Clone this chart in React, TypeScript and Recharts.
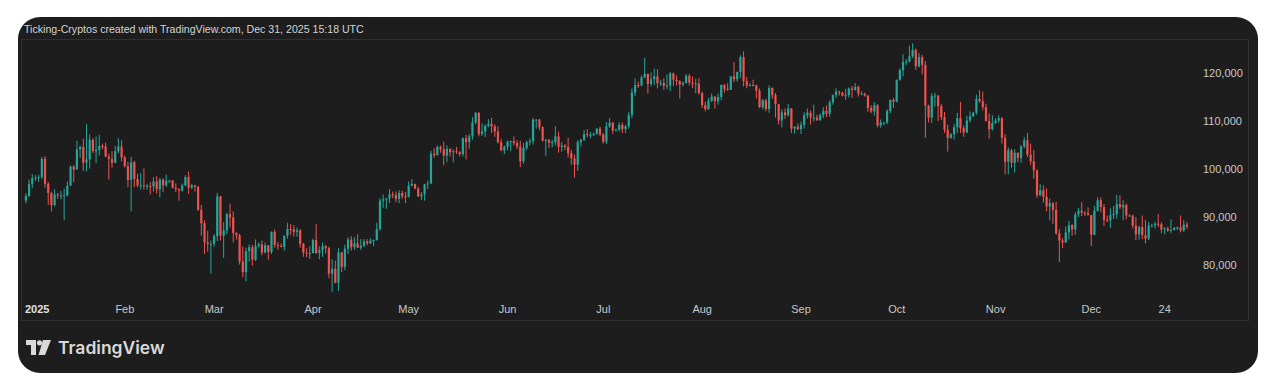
import React from 'react';
import { ComposedChart, Bar, XAxis, YAxis } from 'recharts';

// BTC/USD daily candles for 2025, [open, high, low, close] in thousands of USD
type Ohlc = [number, number, number, number];

const jan: Ohlc[] = [
  [93.4, 94.9, 92.8, 94.4], [94.4, 97.8, 94.2, 96.9], [96.9, 98.9, 96.0, 98.1], [98.1, 98.7, 97.5, 98.2],
  [98.2, 98.8, 97.3, 98.3], [98.3, 102.5, 97.9, 102.1], [102.1, 102.7, 96.1, 96.9], [96.9, 97.3, 92.5, 95.0],
  [95.0, 95.3, 91.2, 92.5], [92.5, 95.8, 92.2, 94.7], [94.7, 95.0, 93.8, 94.5], [94.5, 95.4, 93.7, 94.5],
  [94.5, 95.9, 89.3, 94.5], [94.5, 97.4, 94.3, 96.5], [96.5, 100.7, 96.5, 100.5], [100.5, 100.8, 97.3, 99.9],
  [99.9, 105.9, 99.9, 104.1], [104.1, 104.9, 102.3, 104.6], [104.6, 106.3, 99.6, 101.3], [101.3, 109.4, 99.5, 102.0],
  [102.0, 107.2, 100.1, 106.1], [106.1, 106.4, 103.3, 103.7], [103.7, 106.8, 101.2, 104.0], [104.0, 107.1, 102.8, 104.8],
  [104.8, 105.3, 104.1, 104.7], [104.7, 105.5, 102.5, 102.6], [102.6, 103.2, 97.8, 102.1], [102.1, 103.7, 100.3, 101.3],
  [101.3, 104.8, 101.3, 103.7], [103.7, 106.4, 103.3, 104.7], [104.7, 106.0, 101.6, 102.4],
];

const feb: Ohlc[] = [
  [102.4, 102.8, 100.3, 100.6], [100.6, 101.5, 96.2, 97.7], [97.7, 102.5, 91.2, 101.4], [101.4, 101.7, 96.2, 97.9],
  [97.9, 99.0, 96.2, 96.6], [96.6, 99.2, 95.7, 96.6], [96.6, 100.1, 95.7, 96.5], [96.5, 96.9, 95.7, 96.5],
  [96.5, 97.3, 94.7, 96.4], [96.4, 98.3, 95.3, 97.4], [97.4, 98.5, 94.9, 95.8], [95.8, 98.1, 94.1, 97.8],
  [97.8, 98.0, 95.2, 96.6], [96.6, 98.8, 96.3, 97.5], [97.5, 97.7, 97.1, 97.6], [97.6, 97.7, 96.0, 96.1],
  [96.1, 97.0, 95.2, 95.8], [95.8, 96.0, 93.4, 95.5], [95.5, 97.0, 95.3, 96.6], [96.6, 98.7, 96.4, 98.3],
  [98.3, 99.5, 94.8, 96.1], [96.1, 96.9, 95.8, 96.6], [96.6, 96.7, 95.3, 96.3], [96.3, 96.5, 91.3, 91.5],
  [91.5, 92.5, 86.1, 88.7], [88.7, 89.3, 82.3, 84.7], [84.7, 87.1, 82.8, 84.4], [84.4, 85.1, 78.2, 84.4],
];

const mar: Ohlc[] = [
  [84.4, 86.5, 83.8, 86.0], [86.0, 95.0, 85.0, 94.3], [94.3, 94.4, 85.1, 86.1], [86.1, 88.9, 81.5, 87.2],
  [87.2, 90.9, 86.4, 90.6], [90.6, 92.8, 87.8, 89.9], [89.9, 91.2, 84.7, 86.7], [86.7, 86.8, 85.3, 86.2],
  [86.2, 86.5, 80.1, 80.7], [80.7, 83.9, 77.5, 78.5], [78.5, 83.6, 76.6, 82.9], [82.9, 84.3, 80.7, 83.7],
  [83.7, 84.2, 79.9, 81.1], [81.1, 85.3, 80.8, 84.0], [84.0, 84.7, 83.6, 84.3], [84.3, 85.1, 82.0, 82.6],
  [82.6, 84.7, 82.4, 84.1], [84.1, 84.1, 81.1, 82.7], [82.7, 87.0, 82.3, 86.9], [86.9, 87.4, 83.6, 84.2],
  [84.2, 84.8, 83.2, 84.0], [84.0, 84.5, 83.7, 83.8], [83.8, 86.1, 83.0, 86.1], [86.1, 88.8, 85.5, 87.5],
  [87.5, 88.5, 86.3, 87.4], [87.4, 88.3, 85.9, 86.9], [86.9, 87.8, 85.9, 87.2], [87.2, 87.5, 83.6, 84.4],
  [84.4, 84.6, 81.7, 82.6], [82.6, 83.5, 81.6, 82.4], [82.4, 83.9, 81.3, 82.5],
];

const apr: Ohlc[] = [
  [82.5, 85.5, 82.4, 85.2], [85.2, 88.5, 82.3, 82.5], [82.5, 83.9, 81.2, 83.1], [83.1, 84.7, 81.7, 83.9],
  [83.9, 84.2, 82.4, 83.5], [83.5, 83.8, 77.2, 78.2], [78.2, 81.2, 74.4, 79.2], [79.2, 80.9, 76.2, 76.3],
  [76.3, 83.5, 74.6, 82.6], [82.6, 82.7, 78.5, 79.6], [79.6, 84.2, 78.9, 83.4], [83.4, 85.8, 82.3, 85.3],
  [85.3, 86.0, 83.0, 83.7], [83.7, 85.8, 83.1, 84.5], [84.5, 86.4, 83.6, 83.6], [83.6, 85.4, 83.1, 84.0],
  [84.0, 85.4, 83.7, 84.9], [84.9, 85.4, 84.1, 84.5], [84.5, 85.6, 84.4, 85.1], [85.1, 85.3, 83.9, 85.2],
  [85.2, 88.8, 85.1, 87.5], [87.5, 93.9, 87.1, 93.4], [93.4, 94.7, 91.9, 93.7], [93.7, 94.0, 91.7, 93.9],
  [93.9, 95.8, 92.9, 94.7], [94.7, 95.3, 93.9, 94.6], [94.6, 95.3, 93.1, 93.8], [93.8, 95.6, 92.9, 95.0],
  [95.0, 95.5, 93.8, 94.3], [94.3, 95.2, 92.9, 94.2],
];

const may: Ohlc[] = [
  [94.2, 97.4, 94.1, 96.5], [96.5, 97.9, 96.4, 96.9], [96.9, 96.9, 95.8, 95.9], [95.9, 96.3, 94.2, 94.3],
  [94.3, 95.2, 93.5, 94.7], [94.7, 96.9, 93.4, 96.8], [96.8, 97.6, 95.8, 97.0], [97.0, 103.8, 96.9, 103.2],
  [103.2, 104.3, 102.3, 102.9], [102.9, 104.9, 102.8, 104.6], [104.6, 104.9, 103.4, 104.1], [104.1, 105.7, 100.8, 102.8],
  [102.8, 104.9, 101.4, 104.2], [104.2, 104.3, 102.6, 103.5], [103.5, 104.1, 101.4, 103.7], [103.7, 104.6, 103.1, 103.5],
  [103.5, 103.7, 102.6, 103.1], [103.1, 106.6, 102.6, 106.4], [106.4, 107.1, 102.0, 105.6], [105.6, 107.3, 104.2, 106.8],
  [106.8, 110.8, 106.1, 109.7], [109.7, 111.9, 109.3, 111.7], [111.7, 111.8, 106.8, 107.3], [107.3, 109.5, 106.9, 107.8],
  [107.8, 109.3, 106.6, 109.0], [109.0, 110.4, 108.7, 109.4], [109.4, 110.7, 107.5, 108.9], [108.9, 109.3, 106.7, 107.8],
  [107.8, 108.9, 105.3, 105.6], [105.6, 106.3, 103.7, 103.9], [103.9, 104.9, 103.1, 104.6],
];

const jun: Ohlc[] = [
  [104.6, 105.9, 103.9, 105.7], [105.7, 105.9, 103.7, 105.8], [105.8, 106.8, 104.9, 105.4], [105.4, 106.0, 104.2, 104.7],
  [104.7, 105.9, 100.4, 101.6], [101.6, 105.4, 101.1, 104.4], [104.4, 105.9, 103.9, 105.6], [105.6, 106.4, 104.9, 105.8],
  [105.8, 110.6, 105.1, 110.3], [110.3, 110.4, 108.4, 110.3], [110.3, 110.4, 108.1, 108.7], [108.7, 108.9, 105.7, 105.9],
  [105.9, 106.2, 102.7, 106.1], [106.1, 106.2, 104.4, 105.5], [105.5, 106.1, 104.5, 105.6], [105.6, 108.9, 104.9, 106.8],
  [106.8, 107.8, 103.4, 104.6], [104.6, 105.6, 103.6, 104.9], [104.9, 105.2, 103.9, 104.6], [104.6, 106.5, 102.4, 103.3],
  [103.3, 104.0, 100.9, 102.2], [102.2, 103.0, 98.2, 100.9], [100.9, 106.0, 99.6, 105.6], [105.6, 106.3, 104.7, 106.1],
  [106.1, 108.1, 105.8, 107.3], [107.3, 108.3, 106.6, 107.1], [107.1, 107.7, 106.4, 107.1], [107.1, 107.6, 106.9, 107.3],
  [107.3, 108.5, 107.2, 108.4], [108.4, 108.8, 106.8, 107.2],
];

const jul: Ohlc[] = [
  [107.2, 107.5, 105.3, 105.7], [105.7, 109.8, 105.2, 108.9], [108.9, 110.6, 108.6, 109.6], [109.6, 109.8, 107.3, 108.0],
  [108.0, 108.4, 107.8, 108.2], [108.2, 109.7, 107.8, 109.2], [109.2, 109.7, 107.5, 108.3], [108.3, 109.2, 107.5, 108.9],
  [108.9, 111.9, 108.4, 111.3], [111.3, 116.8, 110.6, 115.9], [115.9, 118.9, 115.2, 117.5], [117.5, 118.2, 116.9, 117.4],
  [117.4, 119.5, 117.2, 119.1], [119.1, 123.2, 118.9, 119.8], [119.8, 119.9, 115.7, 117.7], [117.7, 120.1, 117.2, 118.7],
  [118.7, 120.9, 117.5, 119.3], [119.3, 120.8, 116.8, 117.9], [117.9, 118.6, 117.3, 117.9], [117.9, 118.9, 116.5, 117.3],
  [117.3, 119.7, 116.6, 117.4], [117.4, 120.2, 116.2, 119.9], [119.9, 120.1, 117.3, 118.6], [118.6, 119.5, 117.4, 118.3],
  [118.3, 118.5, 114.7, 117.6], [117.6, 118.3, 117.2, 117.9], [117.9, 119.8, 117.8, 119.4], [119.4, 119.8, 117.4, 118.0],
  [118.0, 119.3, 116.9, 117.8], [117.8, 118.8, 115.8, 117.8], [117.8, 118.9, 115.5, 115.8],
];

const aug: Ohlc[] = [
  [115.8, 116.1, 112.7, 113.3], [113.3, 114.0, 112.0, 112.5], [112.5, 114.8, 112.3, 114.2], [114.2, 115.7, 114.0, 115.1],
  [115.1, 115.1, 112.6, 114.1], [114.1, 115.7, 113.4, 115.0], [115.0, 117.6, 114.3, 117.5], [117.5, 117.7, 115.9, 116.7],
  [116.7, 117.9, 116.3, 116.5], [116.5, 119.3, 116.5, 119.3], [119.3, 122.3, 118.1, 118.7], [118.7, 120.3, 118.2, 120.2],
  [120.2, 123.7, 118.9, 123.3], [123.3, 124.5, 117.2, 118.3], [118.3, 119.2, 116.8, 117.4], [117.4, 117.9, 117.2, 117.5],
  [117.5, 118.6, 117.2, 117.4], [117.4, 117.6, 114.7, 116.3], [116.3, 116.8, 112.7, 112.9], [112.9, 114.6, 112.4, 114.3],
  [114.3, 114.6, 112.0, 112.5], [112.5, 117.4, 111.7, 116.9], [116.9, 117.0, 114.6, 115.4], [115.4, 115.8, 110.7, 113.5],
  [113.5, 113.6, 109.3, 110.1], [110.1, 112.4, 108.7, 111.8], [111.8, 112.6, 110.4, 111.2], [111.2, 113.5, 110.9, 112.6],
  [112.6, 112.7, 107.5, 108.4], [108.4, 108.9, 107.4, 108.8], [108.8, 109.5, 108.1, 108.3],
];

const sep: Ohlc[] = [
  [108.3, 109.9, 107.3, 109.2], [109.2, 111.8, 108.4, 111.2], [111.2, 112.6, 110.5, 111.7], [111.7, 112.2, 109.3, 110.7],
  [110.7, 113.4, 109.9, 110.7], [110.7, 111.3, 110.0, 110.2], [110.2, 111.6, 110.0, 111.2], [111.2, 112.9, 110.6, 112.1],
  [112.1, 113.2, 110.8, 111.5], [111.5, 114.3, 110.9, 113.9], [113.9, 115.5, 113.4, 115.4], [115.4, 116.8, 114.8, 116.1],
  [116.1, 116.3, 115.3, 115.9], [115.9, 116.1, 115.1, 115.3], [115.3, 116.7, 114.4, 115.4], [115.4, 117.0, 114.9, 116.8],
  [116.8, 117.3, 114.8, 116.5], [116.5, 117.9, 116.3, 117.1], [117.1, 117.4, 115.1, 115.7], [115.7, 116.2, 115.4, 115.7],
  [115.7, 115.9, 115.1, 115.3], [115.3, 115.4, 111.9, 112.7], [112.7, 113.3, 111.6, 112.0], [112.0, 114.0, 111.1, 113.3],
  [113.3, 113.5, 108.7, 109.1], [109.1, 110.3, 108.6, 109.7], [109.7, 109.8, 109.1, 109.7], [109.7, 112.4, 109.3, 112.1],
  [112.1, 114.4, 111.6, 114.4], [114.4, 114.8, 112.7, 114.0],
];

const oct: Ohlc[] = [
  [114.0, 118.6, 113.9, 118.6], [118.6, 121.0, 118.4, 120.6], [120.6, 123.9, 119.3, 122.3], [122.3, 122.9, 121.6, 122.4],
  [122.4, 125.7, 122.2, 123.5], [123.5, 126.2, 123.1, 124.8], [124.8, 125.1, 120.6, 121.4], [121.4, 124.2, 121.1, 123.3],
  [123.3, 123.8, 119.7, 121.7], [121.7, 122.5, 106.5, 113.2], [113.2, 113.4, 109.7, 110.7], [110.7, 115.8, 109.6, 115.2],
  [115.2, 115.9, 113.0, 115.3], [115.3, 115.4, 110.0, 113.1], [113.1, 113.6, 110.2, 110.8], [110.8, 111.9, 107.5, 108.2],
  [108.2, 109.2, 103.6, 106.5], [106.5, 107.5, 106.3, 107.2], [107.2, 109.4, 106.1, 108.7], [108.7, 111.7, 107.5, 110.6],
  [110.6, 114.0, 107.5, 108.5], [108.5, 109.1, 106.7, 107.6], [107.6, 111.1, 107.5, 110.1], [110.1, 112.0, 109.7, 111.0],
  [111.0, 111.9, 110.8, 111.7], [111.7, 115.5, 111.3, 114.6], [114.6, 116.4, 113.8, 114.1], [114.1, 116.1, 112.2, 112.9],
  [112.9, 113.6, 109.9, 110.0], [110.0, 111.6, 106.3, 108.3], [108.3, 111.2, 108.0, 109.6],
];

const nov: Ohlc[] = [
  [109.6, 110.6, 109.4, 110.1], [110.1, 111.2, 109.6, 110.6], [110.6, 110.8, 105.3, 106.5], [106.5, 107.3, 98.9, 101.5],
  [101.5, 104.5, 98.9, 103.9], [103.9, 104.2, 100.3, 101.3], [101.3, 104.1, 99.3, 103.4], [103.4, 103.4, 101.4, 102.3],
  [102.3, 105.0, 101.3, 104.7], [104.7, 106.6, 104.3, 106.0], [106.0, 107.5, 102.5, 103.0], [103.0, 105.3, 100.8, 101.6],
  [101.6, 104.0, 98.0, 99.7], [99.7, 99.9, 94.0, 94.5], [94.5, 96.8, 94.4, 95.6], [95.6, 96.6, 93.0, 94.2],
  [94.2, 96.0, 91.2, 92.2], [92.2, 93.8, 89.3, 92.9], [92.9, 93.1, 88.6, 91.5], [91.5, 93.2, 86.3, 86.6],
  [86.6, 87.5, 80.6, 85.1], [85.1, 85.6, 83.5, 84.7], [84.7, 88.0, 84.6, 86.8], [86.8, 89.2, 85.3, 88.3],
  [88.3, 88.5, 86.1, 87.4], [87.4, 91.0, 86.3, 90.5], [90.5, 91.9, 90.0, 91.3], [91.3, 93.1, 90.2, 90.9],
  [90.9, 91.2, 90.2, 90.8], [90.8, 92.0, 90.3, 90.4],
];

const dec: Ohlc[] = [
  [90.4, 90.4, 83.9, 86.3], [86.3, 92.3, 86.2, 91.3], [91.3, 94.1, 91.1, 93.5], [93.5, 94.1, 91.0, 92.1],
  [92.1, 92.7, 88.1, 89.4], [89.4, 90.3, 88.9, 89.3], [89.3, 91.8, 87.7, 90.4], [90.4, 92.3, 89.6, 90.6],
  [90.6, 94.6, 89.6, 92.7], [92.7, 94.5, 91.6, 92.0], [92.0, 93.5, 89.3, 92.5], [92.5, 92.8, 89.5, 90.3],
  [90.3, 90.6, 90.1, 90.3], [90.3, 90.5, 87.6, 88.2], [88.2, 90.0, 85.2, 86.4], [86.4, 88.2, 85.3, 87.9],
  [87.9, 90.3, 85.4, 86.2], [86.2, 89.4, 84.5, 85.5], [85.5, 89.0, 85.2, 88.2], [88.2, 88.6, 87.8, 88.3],
  [88.3, 89.0, 87.6, 88.6], [88.6, 90.6, 87.9, 88.5], [88.5, 88.9, 86.6, 87.4], [87.4, 87.9, 86.4, 87.6],
  [87.6, 88.0, 86.9, 87.2], [87.2, 89.5, 86.6, 87.3], [87.3, 87.9, 87.2, 87.8], [87.8, 88.0, 87.3, 87.8],
  [87.8, 90.3, 86.8, 87.2], [87.2, 89.4, 86.9, 88.4], [88.4, 89.0, 87.5, 88.0],
];

const months = [jan, feb, mar, apr, may, jun, jul, aug, sep, oct, nov, dec];

// day-of-year positions for the time scale labels
const tickDays = [0, 31, 59, 90, 120, 151, 181, 212, 243, 273, 304, 334, 357];
const tickLabels = ['2025', 'Feb', 'Mar', 'Apr', 'May', 'Jun', 'Jul', 'Aug', 'Sep', 'Oct', 'Nov', 'Dec', '24'];
const priceTicks = [80, 90, 100, 110, 120];

const UP = '#26a69a';
const DOWN = '#ef5350';
const TEXT = '#c8c8c8';
const FONT = '"Liberation Sans", Arial, sans-serif';

const candles = months.flat().map(([o, h, l, c], i) => ({ day: i, o, h, l, c, range: [l, h] }));

const Candle = (props: any) => {
  const { x, y, width, height, payload } = props;
  const { o, h, l, c } = payload;
  const color = c >= o ? UP : DOWN;
  const cx = x + width / 2;
  const span = h - l || 1;
  const toY = (p: number) => y + ((h - p) / span) * height;
  const top = toY(Math.max(o, c));
  const bot = toY(Math.min(o, c));
  return (
    <g>
      <line x1={cx} x2={cx} y1={y} y2={y + height} stroke={color} strokeWidth={1} />
      <rect x={cx - 1.1} y={top} width={2.2} height={Math.max(bot - top, 1)} fill={color} />
    </g>
  );
};

const TimeTick = (props: any) => {
  const { x, y, payload } = props;
  const idx = tickDays.indexOf(payload.value);
  const first = idx === 0;
  return (
    <text
      x={first ? x - 1 : x}
      y={y}
      dy={7}
      textAnchor={first ? 'start' : 'middle'}
      fill={first ? '#e0e0e0' : TEXT}
      fontSize={11}
      fontWeight={first ? 700 : 400}
      fontFamily={FONT}
    >
      {tickLabels[idx]}
    </text>
  );
};

const PriceTick = (props: any) => {
  const { x, y, payload } = props;
  return (
    <text x={x} y={y} dy={4} textAnchor="start" fill={TEXT} fontSize={11} fontFamily={FONT}>
      {(payload.value * 1000).toLocaleString('en-US')}
    </text>
  );
};

const Logo = () => (
  <div style={{ position: 'absolute', left: 8, top: 320, display: 'flex', alignItems: 'center', gap: 7 }}>
    <svg width={25} height={15} viewBox="0 0 25 15">
      <path d="M0 0 H10 V15 H5 V5 H0 Z" fill="#d9d9d9" />
      <circle cx={13.5} cy={2.8} r={2.6} fill="#d9d9d9" />
      <path d="M17 0 H25 L19 15 H12.5 Z" fill="#d9d9d9" />
    </svg>
    <span style={{ color: '#d9d9d9', fontFamily: 'Inter, "Noto Sans", sans-serif', fontWeight: 600, fontSize: 17.5 }}>
      TradingView
    </span>
  </div>
);

export default function App() {
  return (
    <div style={{ position: 'absolute', left: 0, top: 0, width: 1280, height: 390, background: '#ffffff' }}>
      <div
        style={{
          position: 'absolute',
          left: 18,
          top: 17,
          width: 1240,
          height: 356,
          borderRadius: 22,
          background: '#1d1d1d',
          overflow: 'hidden',
        }}
      >
        <div
          style={{
            position: 'absolute',
            left: 6,
            top: 6,
            color: '#d4d4d4',
            fontFamily: FONT,
            fontSize: 10.6,
            whiteSpace: 'nowrap',
          }}
        >
          Ticking-Cryptos created with TradingView.com, Dec 31, 2025 15:18 UTC
        </div>
        <div
          style={{
            position: 'absolute',
            left: 3,
            top: 22,
            width: 1228,
            height: 282,
            border: '1px solid #303030',
            boxSizing: 'border-box',
          }}
        />
        <div style={{ position: 'absolute', left: 4, top: 23 }}>
          <ComposedChart width={1226} height={280} data={candles} margin={{ top: 0, right: 0, bottom: 0, left: 0 }}>
            <XAxis
              dataKey="day"
              type="number"
              domain={[-1.25, 366.5]}
              ticks={tickDays}
              interval={0}
              height={22}
              axisLine={false}
              tickLine={false}
              tick={<TimeTick />}
            />
            <YAxis
              orientation="right"
              width={53}
              domain={[73.125, 126.875]}
              ticks={priceTicks}
              axisLine={false}
              tickLine={false}
              tick={<PriceTick />}
            />
            <Bar dataKey="range" barSize={3} shape={<Candle />} isAnimationActive={false} />
          </ComposedChart>
        </div>
        <Logo />
      </div>
    </div>
  );
}
